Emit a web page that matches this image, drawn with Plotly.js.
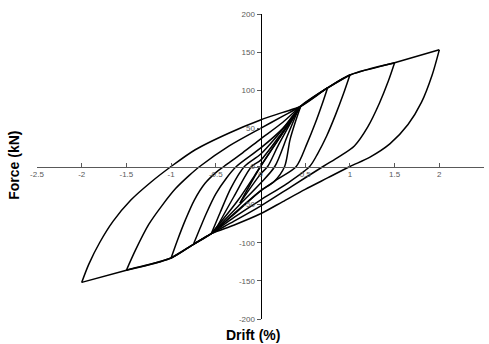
<!DOCTYPE html>
<html>
<head>
<meta charset="utf-8">
<script src="https://cdn.plot.ly/plotly-3.0.1.min.js"></script>
<style>html,body{margin:0;padding:0;background:#fff;}#chart{width:489px;height:344px;}</style>
</head>
<body>
<div id="chart"></div>
<script>
// Axis ticks
const xTicks = [-2.5, -2, -1.5, -1, -0.5, 0, 0.5, 1, 1.5, 2, 2.5];
const yTicks = [-200, -150, -100, -50, 0, 50, 100, 150, 200];

// Skeleton (initial loading)
const skelDrift = [-0.55, -0.25, 0, 0.25, 0.45];
const skelForce = [-88, -44, 0, 44, 79];

// Cycle to 2.0 %
const u20Drift = [2.0, 1.92, 1.8, 1.65, 1.45, 1.22, 1.0, 0.75, 0.5, 0.25, 0, -0.3, -0.55, -0.75, -1.0, -1.5, -2.0];
const u20Force = [153, 120, 84, 55, 30, 12, 0, -15, -30, -46, -62, -77, -88, -102, -120, -136, -152];
const r20Drift = [-2.0, -1.92, -1.8, -1.65, -1.45, -1.22, -1.0, -0.73, -0.35, 0, 0.25, 0.45, 0.75, 1.0, 1.5, 2.0];
const r20Force = [-152, -128, -100, -72, -44, -20, 0, 22, 44, 61, 71, 79, 103, 120, 136, 153];

// Cycle to 1.5 %
const u15Drift = [1.5, 1.43, 1.33, 1.2, 1.05, 0.88, 0.7, 0.35, 0, -0.3, -0.55, -0.75, -1.0, -1.5];
const u15Force = [136, 112, 83, 52, 27, 13, 0, -26, -52, -72, -88, -102, -120, -136];
const r15Drift = [-1.5, -1.4, -1.25, -1.1, -0.95, -0.8, -0.68, -0.35, 0, 0.25, 0.45, 0.75, 1.0, 1.5];
const r15Force = [-136, -110, -76, -51, -29, -12, 0, 27, 50, 66, 79, 103, 120, 136];

// Cycle to 1.0 %
const u10Drift = [1.0, 0.93, 0.84, 0.74, 0.64, 0.55, 0.3, 0, -0.3, -0.55, -0.75, -1.0];
const u10Force = [120, 96, 68, 40, 17, 0, -22, -44, -67, -88, -102, -120];
const r10Drift = [-1.0, -0.93, -0.84, -0.74, -0.62, -0.5, -0.41, -0.2, 0, 0.25, 0.45, 0.75, 1.0];
const r10Force = [-120, -97, -70, -44, -22, -8, 0, 18, 36, 58, 79, 103, 120];

// Cycle to 0.75 %
const u075Drift = [0.75, 0.69, 0.61, 0.52, 0.4, 0.2, 0, -0.3, -0.55, -0.75];
const u075Force = [103, 82, 56, 30, 0, -16, -32, -62, -88, -102];
const r075Drift = [-0.75, -0.68, -0.6, -0.5, -0.38, -0.27, 0, 0.25, 0.45, 0.75];
const r075Force = [-102, -82, -60, -36, -15, 0, 24, 50, 79, 103];

// Cycle to 0.5 %
const u05Drift = [0.45, 0.4, 0.33, 0.27, 0.15, 0, -0.25, -0.55];
const u05Force = [79, 62, 35, 0, -20, -32, -58, -88];
const r05Drift = [-0.55, -0.45, -0.33, -0.18, 0, 0.2, 0.45];
const r05Force = [-88, -60, -28, 0, 16, 42, 79];

// Cycle to 0.35 %
const u035Drift = [0.42, 0.3, 0.16, 0, -0.25, -0.5];
const u035Force = [74, 40, 0, -22, -52, -82];
const r035Drift = [-0.5, -0.3, -0.1, 0, 0.2, 0.42];
const r035Force = [-82, -40, 0, 8, 38, 74];

// Cycle to 0.25 %
const u025Drift = [0.38, 0.2, 0.08, 0, -0.23];
const u025Force = [66, 28, 0, -10, -48];
const r025Drift = [-0.23, 0, 0.25, 0.45];
const r025Force = [-48, 0, 44, 79];

const branches = [
  [skelDrift, skelForce],
  [u20Drift, u20Force], [r20Drift, r20Force],
  [u15Drift, u15Force], [r15Drift, r15Force],
  [u10Drift, u10Force], [r10Drift, r10Force],
  [u075Drift, u075Force], [r075Drift, r075Force],
  [u05Drift, u05Force], [r05Drift, r05Force],
  [u035Drift, u035Force], [r035Drift, r035Force],
  [u025Drift, u025Force], [r025Drift, r025Force]
];

const traces = branches.map(b => ({
  x: b[0], y: b[1], type: 'scatter', mode: 'lines',
  line: {color: '#000000', width: 1.5, shape: 'spline', smoothing: 0.8},
  hoverinfo: 'skip', showlegend: false
}));

const tickFont = {family: 'Liberation Sans, Arial, sans-serif', size: 8, color: '#595959'};
const layout = {
  width: 489, height: 344,
  margin: {l: 37, r: 5, t: 14, b: 25, pad: 0},
  paper_bgcolor: '#ffffff', plot_bgcolor: '#ffffff',
  showlegend: false,
  xaxis: {
    range: [-2.5, 2.5], tickvals: xTicks, ticktext: xTicks.map(String),
    anchor: 'free', position: 0.5,
    showgrid: false, zeroline: false, showline: true, linecolor: '#595959', linewidth: 1,
    ticks: 'inside', ticklen: 4, tickcolor: '#595959', tickfont: tickFont
  },
  yaxis: {
    range: [-200, 200], tickvals: yTicks, ticktext: yTicks.map(String),
    anchor: 'free', position: 0.5,
    showgrid: false, zeroline: false, showline: true, linecolor: '#000000', linewidth: 1,
    ticks: 'outside', ticklen: 4, tickcolor: '#595959', tickfont: tickFont
  },
  annotations: [
    {text: '<b>Drift (%)</b>', xref: 'paper', yref: 'paper', x: 0.483, y: -0.052,
     xanchor: 'center', yanchor: 'middle', showarrow: false,
     font: {family: 'Liberation Sans, Arial, sans-serif', size: 14, color: '#000000'}},
    {text: '<b>Force (kN)</b>', xref: 'paper', yref: 'paper', x: -0.052, y: 0.505,
     xanchor: 'center', yanchor: 'middle', showarrow: false, textangle: -90,
     font: {family: 'Liberation Sans, Arial, sans-serif', size: 14, color: '#000000'}}
  ]
};

Plotly.newPlot('chart', traces, layout, {staticPlot: true, displayModeBar: false});
</script>
</body>
</html>
